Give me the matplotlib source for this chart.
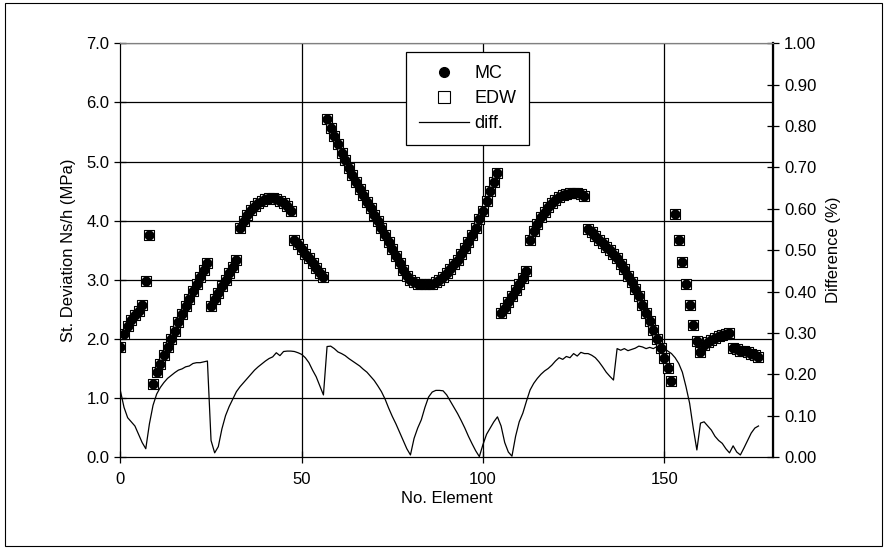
import numpy as np
import matplotlib.pyplot as plt
from matplotlib.lines import Line2D
from matplotlib.patches import Rectangle

plt.rcParams.update(
    {
        "font.family": ["Liberation Sans", "DejaVu Sans"],
        "font.size": 12,
    }
)

# element numbers and values
element = list(range(177))

st_dev_mc = [
    # 0-8
    1.86, 2.08, 2.22, 2.32, 2.40, 2.47, 2.58, 2.98, 3.76,
    # 9-24
    1.24, 1.44, 1.58, 1.72, 1.86, 2.00, 2.14, 2.28, 2.42, 2.55, 2.68, 2.81, 2.93, 3.05, 3.17, 3.29,
    # 25-32
    2.56, 2.67, 2.78, 2.89, 3.00, 3.11, 3.22, 3.33,
    # 33-47
    3.88, 4.00, 4.10, 4.18, 4.25, 4.30, 4.34, 4.37, 4.38, 4.38, 4.37, 4.34, 4.30, 4.24, 4.17,
    # 48-56
    3.68, 3.60, 3.52, 3.44, 3.36, 3.28, 3.20, 3.12, 3.05,
    # 57-104
    5.72, 5.57, 5.43, 5.29, 5.15, 5.02, 4.89, 4.77, 4.65, 4.54, 4.43, 4.32, 4.21, 4.10, 3.99, 3.88,
    3.76, 3.64, 3.52, 3.40, 3.28, 3.17, 3.07, 3.00, 2.96, 2.93, 2.92, 2.92, 2.92, 2.93, 2.96, 3.00,
    3.05, 3.11, 3.18, 3.26, 3.34, 3.43, 3.53, 3.63, 3.75, 3.88, 4.02, 4.17, 4.33, 4.50, 4.66, 4.81,
    # 105-112
    2.43, 2.52, 2.62, 2.72, 2.83, 2.93, 3.03, 3.14,
    # 113-128
    3.68, 3.82, 3.95, 4.06, 4.15, 4.23, 4.30, 4.35, 4.40, 4.43, 4.45, 4.46, 4.47, 4.46, 4.45, 4.42,
    # 129-152
    3.85, 3.80, 3.74, 3.68, 3.62, 3.56, 3.50, 3.44, 3.36, 3.27, 3.18, 3.07, 2.96, 2.84, 2.72, 2.58,
    2.44, 2.30, 2.15, 2.00, 1.85, 1.68, 1.50, 1.29,
    # 153-176
    4.11, 3.68, 3.30, 2.93, 2.57, 2.24, 1.96, 1.78, 1.90, 1.94, 1.98, 2.01, 2.04, 2.06, 2.08, 2.09,
    1.84, 1.82, 1.80, 1.79, 1.77, 1.75, 1.73, 1.70,
]

# EDW falls on top of MC everywhere at this scale
st_dev_edw = list(st_dev_mc)

diff_pct = [
    0.160, 0.120, 0.095, 0.085, 0.075, 0.055, 0.035, 0.020, 0.080, 0.125,
    0.152, 0.168, 0.180, 0.190, 0.197, 0.204, 0.210, 0.213, 0.218, 0.220,
    0.226, 0.228, 0.228, 0.230, 0.232, 0.040, 0.010, 0.025, 0.068, 0.100,
    0.122, 0.140, 0.158, 0.170, 0.180, 0.190, 0.200, 0.210, 0.218, 0.225,
    0.232, 0.238, 0.242, 0.252, 0.245, 0.255, 0.256, 0.256, 0.255, 0.252,
    0.248, 0.240, 0.228, 0.210, 0.194, 0.172, 0.150, 0.267, 0.268, 0.262,
    0.254, 0.250, 0.245, 0.238, 0.232, 0.226, 0.220, 0.212, 0.205, 0.195,
    0.185, 0.172, 0.158, 0.140, 0.118, 0.098, 0.080, 0.060, 0.040, 0.020,
    0.005, 0.045, 0.070, 0.090, 0.120, 0.145, 0.157, 0.161, 0.161, 0.160,
    0.150, 0.135, 0.120, 0.105, 0.088, 0.070, 0.050, 0.032, 0.015, 0.001,
    0.030, 0.055, 0.070, 0.085, 0.097, 0.075, 0.035, 0.012, 0.002, 0.050,
    0.085, 0.106, 0.135, 0.162, 0.178, 0.190, 0.200, 0.208, 0.214, 0.222,
    0.232, 0.240, 0.236, 0.243, 0.240, 0.250, 0.244, 0.253, 0.250, 0.250,
    0.246, 0.240, 0.230, 0.218, 0.205, 0.195, 0.186, 0.262, 0.258, 0.262,
    0.257, 0.260, 0.263, 0.268, 0.266, 0.262, 0.265, 0.262, 0.267, 0.266,
    0.262, 0.256, 0.250, 0.240, 0.226, 0.205, 0.170, 0.130, 0.070, 0.017,
    0.082, 0.085, 0.075, 0.065, 0.050, 0.040, 0.033, 0.020, 0.010, 0.027,
    0.012, 0.005, 0.022, 0.040, 0.058, 0.070, 0.075,
]

left_ticks = [0, 1, 2, 3, 4, 5, 6, 7]
right_ticks = [0.0, 0.1, 0.2, 0.3, 0.4, 0.5, 0.6, 0.7, 0.8, 0.9, 1.0]
x_ticks = [0, 50, 100, 150]

fig = plt.figure(figsize=(8.85, 5.48), dpi=100)
ax = fig.add_axes([120.4 / 885, 91 / 548, 652.6 / 885, 413.7 / 548])
ax2 = ax.twinx()

# gridlines
for yv in left_ticks[1:]:
    ax.axhline(yv, color="black", lw=0.9, zorder=0)
for xv in x_ticks[1:]:
    ax.axvline(xv, color="black", lw=0.9, zorder=0)

ax.scatter(element, st_dev_edw, marker="s", s=56, facecolor="white",
           edgecolor="black", linewidth=0.8, zorder=2)
ax.scatter(element, st_dev_mc, marker="o", s=38, color="black", zorder=3)
ax2.plot(element, diff_pct, color="black", lw=0.9, zorder=4)

ax.set_xlim(0, 180)
ax.set_ylim(0, 7)
ax2.set_ylim(0, 1)
ax.set_xticks(x_ticks)
ax.set_yticks(left_ticks)
ax.set_yticklabels([f"{v:.1f}" for v in left_ticks])
ax2.set_yticks(right_ticks)
ax2.set_yticklabels([f"{v:.2f}" for v in right_ticks])

ax.set_xlabel("No. Element", labelpad=3)
ax.set_ylabel("St. Deviation Ns/h (MPa)", labelpad=7)
ax2.set_ylabel("Difference (%)", labelpad=7)

for a in (ax, ax2):
    a.tick_params(direction="inout", length=8, width=0.9, color="black", pad=4)
    for side in ("left", "right", "bottom"):
        a.spines[side].set_color("black")
    a.spines["top"].set_color("#808080")
ax.tick_params(axis="x", pad=7)
ax2.spines["right"].set_linewidth(1.6)
ax2.set_zorder(ax.get_zorder() + 1)
ax2.patch.set_visible(False)

handles = [
    Line2D([], [], marker="o", ls="none", color="black", markersize=7),
    Line2D([], [], marker="s", ls="none", markerfacecolor="white",
           markeredgecolor="black", markersize=8, markeredgewidth=0.8),
    Line2D([], [], color="black", lw=0.9),
]
leg = ax2.legend(handles, ["MC", "EDW", "diff."], loc="upper left",
                 bbox_to_anchor=(0.4376, 0.978), frameon=True, fancybox=False,
                 edgecolor="black", framealpha=1, borderpad=0.7,
                 labelspacing=0.45, handlelength=2.8, handletextpad=0.3,
                 fontsize=13, borderaxespad=0)
leg.get_frame().set_linewidth(0.9)

fig.patches.append(Rectangle((5 / 885, 2 / 548), 877 / 885, 543 / 548,
                             transform=fig.transFigure, fill=False,
                             edgecolor="black", lw=0.8))

fig.savefig("out.png", dpi=100)
